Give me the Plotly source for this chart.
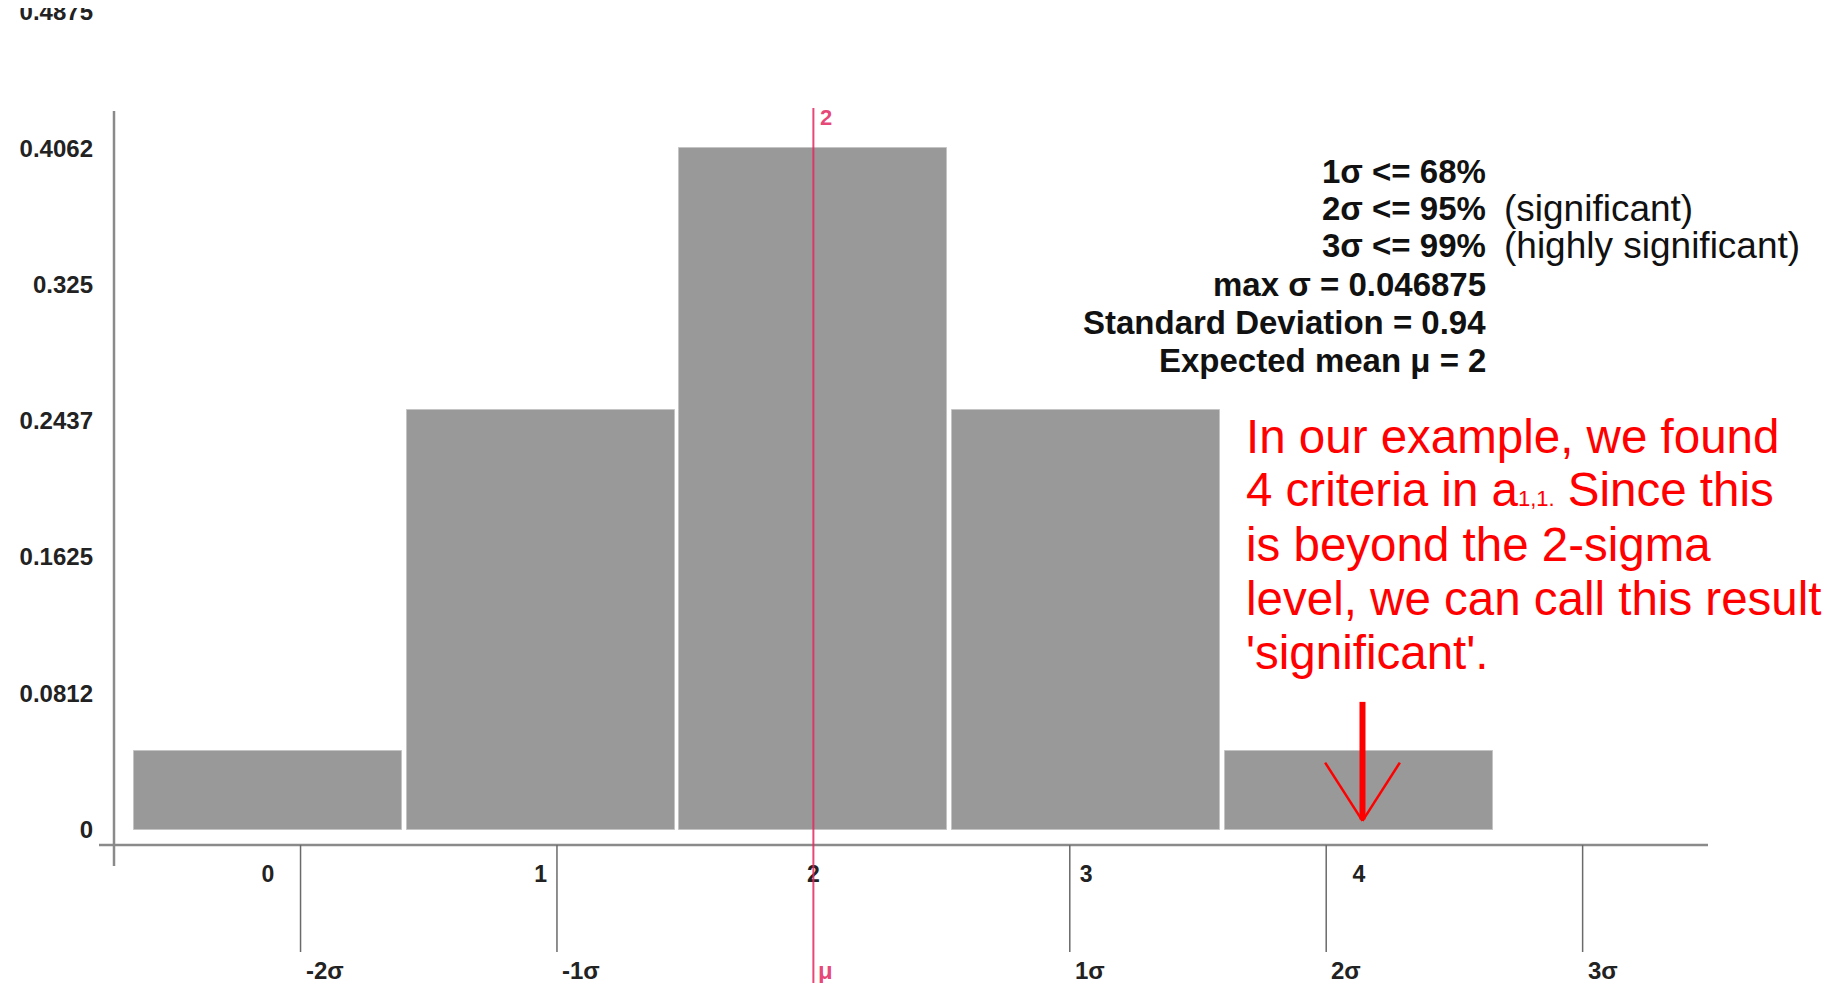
import plotly.graph_objects as go

# ---- data ----
categories = ["0", "1", "2", "3", "4"]
x_vals = [0, 1, 2, 3, 4]
probabilities = [0.046875, 0.25, 0.40625, 0.25, 0.046875]
y_tickvals = [0, 0.08125, 0.1625, 0.24375, 0.325, 0.40625, 0.4875]
y_ticktext = ["0", "0.0812", "0.1625", "0.2437", "0.325", "0.4062", "0.4875"]
mean_mu = 2
std_dev = 0.94
sigma_steps = [-2, -1, 0, 1, 2, 3]
sigma_labels = ["-2σ", "-1σ", "μ", "1σ", "2σ", "3σ"]
observed = 4
stats_lines = ["1σ <= 68%", "2σ <= 95%", "3σ <= 99%", "max σ = 0.046875",
               "Standard Deviation = 0.94", "Expected mean μ = 2"]
stats_notes = ["", "(significant)", "(highly significant)", "", "", ""]
note_lines = ["In our example, we found",
              "4 criteria in a<span style=\"font-size:22px\">1,1.</span> Since this",
              "is beyond the 2-sigma",
              "level, we can call this result",
              "'significant'."]

# ---- layout geometry (pixels, page coordinates; the page body adds an 8px margin) ----
OFF = 8
W, H = 1834 - OFF, 983 - OFF
ML, MR, MT, MB = 105, 0, 0, 138
PW, PH = W - ML - MR, H - MT - MB
X_RANGE = [-0.5675, 5.7415]
Y_RANGE = [-0.00924, 0.48986]

def px_x(p):
    return (p - OFF - ML) / PW

def px_y(p):
    return (H - MB - (p - OFF)) / PH

FONT = "Liberation Sans, Arial, sans-serif"
PINK = "rgba(226,40,95,0.85)"

fig = go.Figure()
fig.add_trace(go.Bar(
    x=x_vals, y=probabilities, width=0.983,
    marker=dict(color="#999999", line=dict(color="#c4c4c4", width=1)),
    hoverinfo="x+y", showlegend=False,
))

shapes = []
# axis lines
shapes.append(dict(type="line", xref="paper", yref="paper",
                   x0=px_x(99), x1=px_x(1708), y0=px_y(845), y1=px_y(845),
                   line=dict(color="#8a8a8a", width=2.5), layer="above"))
shapes.append(dict(type="line", xref="paper", yref="paper",
                   x0=px_x(114), x1=px_x(114), y0=px_y(111), y1=px_y(866),
                   line=dict(color="#8a8a8a", width=2.5), layer="above"))

annotations = []
# sigma ticks
for k, lab in zip(sigma_steps, sigma_labels):
    xv = mean_mu + k * std_dev
    if k == 0:
        shapes.append(dict(type="line", xref="x", yref="paper", x0=xv, x1=xv,
                           y0=px_y(983), y1=px_y(108),
                           line=dict(color=PINK, width=2), layer="above"))
        col = PINK
    else:
        shapes.append(dict(type="line", xref="x", yref="paper", x0=xv, x1=xv,
                           y0=px_y(845), y1=px_y(952),
                           line=dict(color="#6a6a6a", width=1.5), layer="above"))
        col = "#222222"
    annotations.append(dict(x=xv, y=px_y(970), xref="x", yref="paper",
                            text=lab, showarrow=False, xanchor="left", yanchor="middle",
                            xshift=3, font=dict(family=FONT, size=24, color=col, weight="bold")))

# mean label at top
annotations.append(dict(x=mean_mu, y=px_y(117), xref="x", yref="paper",
                        text=str(mean_mu), showarrow=False, xanchor="left", yanchor="middle",
                        xshift=5, font=dict(family=FONT, size=22, color=PINK, weight="bold")))

# stats block
stat_y = [171, 208.5, 246, 284, 322.5, 361]
for t, n, yy in zip(stats_lines, stats_notes, stat_y):
    annotations.append(dict(x=px_x(1488), y=px_y(yy), xref="paper", yref="paper",
                            text=t, showarrow=False, xanchor="right", yanchor="middle",
                            font=dict(family=FONT, size=33, color="#111111", weight="bold")))
    if n:
        annotations.append(dict(x=px_x(1502), y=px_y(yy), xref="paper", yref="paper",
                                text=n, showarrow=False, xanchor="left", yanchor="middle",
                                font=dict(family=FONT, size=37, color="#111111")))

# red note
note_y = [436, 490, 544, 598, 652]
for t, yy in zip(note_lines, note_y):
    annotations.append(dict(x=px_x(1244), y=px_y(yy), xref="paper", yref="paper",
                            text=t, showarrow=False, xanchor="left", yanchor="middle",
                            font=dict(family=FONT, size=47.5, color="#ff0000")))

# red arrow
ax_x = observed + 0.013
shapes.append(dict(type="line", xref="x", yref="y", x0=ax_x, x1=ax_x, y0=0.0761, y1=0.006,
                   line=dict(color="#ff0000", width=6), layer="above"))
for dx in (-0.137, 0.137):
    shapes.append(dict(type="line", xref="x", yref="y", x0=ax_x + dx, x1=ax_x, y0=0.0399, y1=0.0051,
                       line=dict(color="#ff0000", width=2.5), layer="above"))

fig.update_layout(
    width=W, height=H,
    margin=dict(l=ML, r=MR, t=MT, b=MB, autoexpand=False),
    paper_bgcolor="white", plot_bgcolor="white",
    bargap=0,
    xaxis=dict(range=X_RANGE, tickvals=x_vals, ticktext=categories, showgrid=False,
               zeroline=False, showline=False, ticks="", ticklabelstandoff=13,
               automargin=False,
               tickfont=dict(family=FONT, size=23, color="#222222", weight="bold")),
    yaxis=dict(range=Y_RANGE, tickvals=y_tickvals, ticktext=y_ticktext, showgrid=False,
               zeroline=False, showline=False, ticks="", ticklabelstandoff=19,
               ticklabeloverflow="allow", automargin=False,
               tickfont=dict(family=FONT, size=24, color="#222222", weight="bold")),
    shapes=shapes, annotations=annotations,
)

fig.write_html("out.html")
